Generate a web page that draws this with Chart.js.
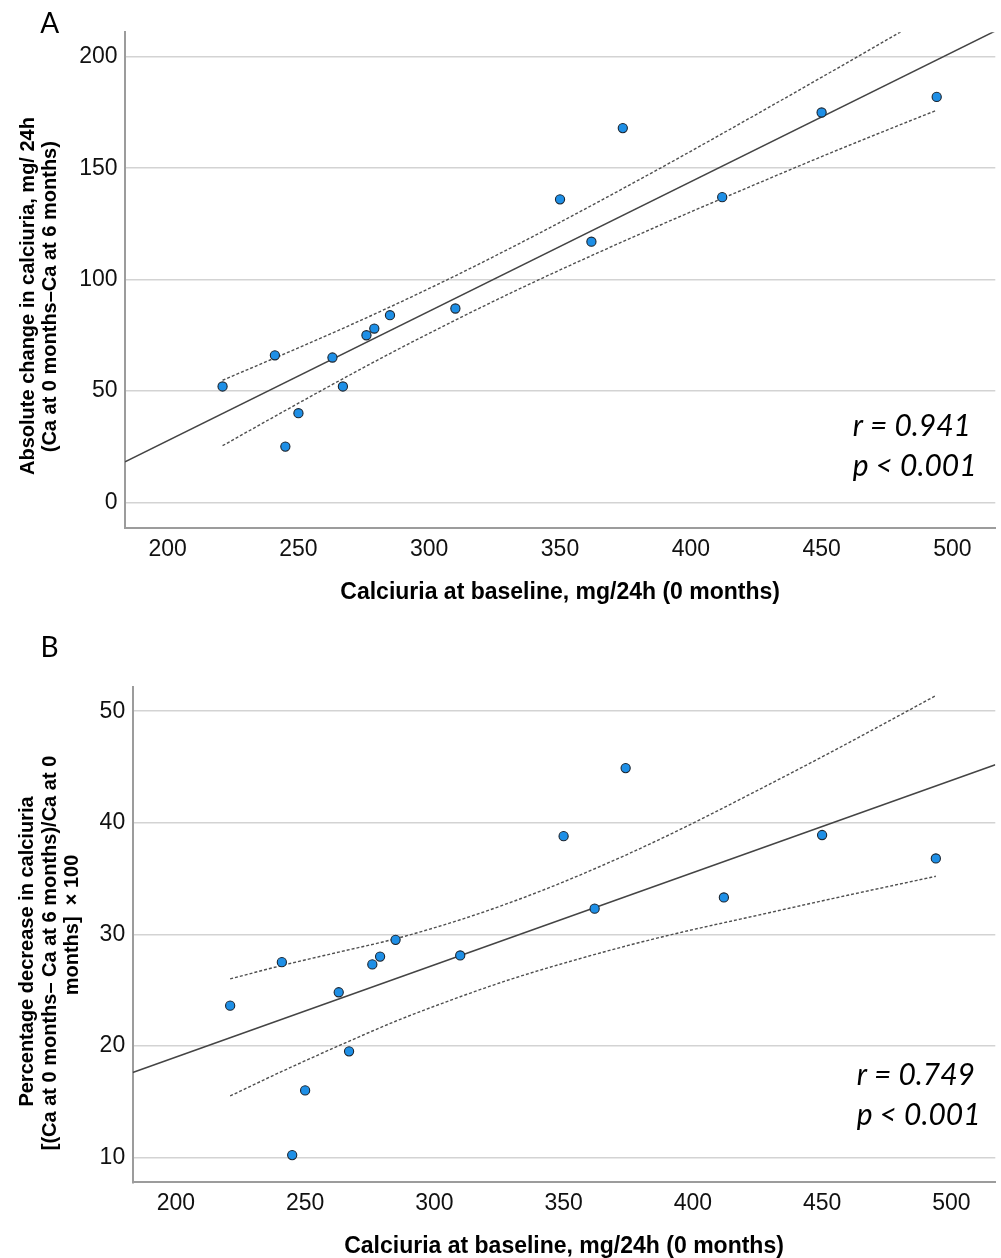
<!DOCTYPE html>
<html lang="en">
<head>
  <meta charset="UTF-8" />
  <title>Calciuria correlations</title>
  <script src="https://cdn.jsdelivr.net/npm/chart.js"></script>
  <style>
    body {
      margin: 0;
      background: #ffffff;
      width: 1001px;
      height: 1258px;
      overflow: hidden;
    }
    canvas {
      display: block;
    }
  </style>
</head>
<body>
  <canvas id="chartA" width="1001" height="625"></canvas>
  <canvas id="chartB" width="1001" height="633"></canvas>

  <script>
    // baseline calciuria (mg/24h) for each patient, same for both panels
    const baselineCa = [221, 241, 245, 250, 263, 267, 276, 279, 285, 310, 350, 362, 374, 412, 450, 494];
    // panel A: absolute change (mg/24h)
    const absChange = [52, 66, 25, 40, 65, 52, 75, 78, 84, 87, 136, 117, 168, 137, 175, 182];
    // panel B: percentage decrease
    const pctDecrease = [23.6, 27.5, 10.2, 16.0, 24.8, 19.5, 27.3, 28.0, 29.5, 28.1, 38.8, 32.3, 44.9, 33.3, 38.9, 36.8];

    // fitted lines and 95% CI bands
    const fitXA = [183.7, 516.4];
    const fitYA = [18.2, 211.6];
    const ciXA = [221, 241, 263, 285, 310, 330, 350, 388, 412, 450, 479, 494];
    const ciUpperA = [54.8, 64.8, 76.0, 87.7, 101.7, 113.5, 125.7, 149.8, 165.5, 190.8, 210.4, 220.6];
    const ciLowerA = [25.4, 38.6, 52.9, 66.8, 81.8, 93.3, 104.3, 124.3, 136.4, 155.2, 169.0, 176.0];

    const fitXB = [183.3, 517];
    const fitYB = [17.6, 45.2];
    const ciXB = [221, 241, 263, 285, 310, 330, 350, 375, 396, 425, 454, 494];
    const ciUpperB = [26.0, 27.2, 28.4, 29.6, 31.3, 32.9, 34.7, 37.2, 39.5, 42.9, 46.4, 51.4];
    const ciLowerB = [15.5, 17.7, 20.0, 22.2, 24.4, 26.0, 27.4, 29.0, 30.2, 31.7, 33.2, 35.2];

    const xTicks = [200, 250, 300, 350, 400, 450, 500];
    const yTicksA = [0, 50, 100, 150, 200];
    const yTicksB = [10, 20, 30, 40, 50];

    const xTitle = 'Calciuria at baseline, mg/24h (0 months)';

    function pts(xs, ys) {
      return xs.map((x, i) => ({ x: x, y: ys[i] }));
    }

    // draws the panel letter, rotated y title and the r / p note
    const notesPlugin = {
      id: 'notes',
      afterDraw(chart) {
        const o = chart.options.plugins.notes;
        const ctx = chart.ctx;
        ctx.save();
        ctx.fillStyle = '#000';
        ctx.textBaseline = 'middle';

        ctx.font = '28px Lato';
        ctx.textAlign = 'center';
        ctx.fillText(o.panel, o.panelPos[0], o.panelPos[1]);

        ctx.font = 'bold 20px "Liberation Sans"';
        o.yTitle.forEach((line, i) => {
          ctx.save();
          ctx.translate(o.yTitlePos[i][0], o.yTitlePos[i][1]);
          ctx.rotate(-Math.PI / 2);
          ctx.fillText(line, 0, 0);
          ctx.restore();
        });

        ctx.font = 'italic 30px Lato';
        ctx.textAlign = 'left';
        o.stats.forEach((line, i) => {
          ctx.fillText(line, o.statsPos[0], o.statsPos[1] + i * 40.7);
        });
        ctx.restore();
      }
    };

    function makeChart(id, cfg) {
      return new Chart(document.getElementById(id), {
        type: 'scatter',
        data: {
          datasets: [
            {
              data: pts(baselineCa, cfg.yValues),
              pointRadius: 4.6,
              pointHoverRadius: 4.6,
              backgroundColor: '#1e8fe6',
              borderColor: '#1b2530',
              borderWidth: 1.1
            },
            {
              data: pts(cfg.fitX, cfg.fitY),
              showLine: true,
              pointRadius: 0,
              borderColor: '#444444',
              borderWidth: 1.5
            },
            {
              data: pts(cfg.ciX, cfg.ciUpper),
              showLine: true,
              pointRadius: 0,
              borderColor: '#4f4f4f',
              borderWidth: 1.4,
              borderDash: [3, 2],
              cubicInterpolationMode: 'monotone'
            },
            {
              data: pts(cfg.ciX, cfg.ciLower),
              showLine: true,
              pointRadius: 0,
              borderColor: '#4f4f4f',
              borderWidth: 1.4,
              borderDash: [3, 2],
              cubicInterpolationMode: 'monotone'
            }
          ]
        },
        options: {
          responsive: false,
          animation: false,
          events: [],
          layout: { padding: cfg.padding },
          plugins: {
            legend: { display: false },
            tooltip: { enabled: false },
            notes: cfg.notes
          },
          scales: {
            x: {
              type: 'linear',
              min: cfg.xMin,
              max: cfg.xMax,
              afterFit: s => { s.height = cfg.xHeight; },
              afterBuildTicks: s => { s.ticks = xTicks.map(v => ({ value: v })); },
              grid: { display: false, drawTicks: false, tickLength: 0 },
              border: { display: true, color: '#9c9c9c', width: 2 },
              ticks: {
                padding: 8,
                color: '#111',
                font: { family: '"Liberation Sans"', size: 23 }
              },
              title: {
                display: true,
                text: xTitle,
                color: '#000',
                font: { family: '"Liberation Sans"', size: 23, weight: 'bold', lineHeight: 1 },
                padding: { top: 0, bottom: cfg.xTitlePad }
              }
            },
            y: {
              type: 'linear',
              min: cfg.yMin,
              max: cfg.yMax,
              afterFit: s => { s.width = cfg.yWidth; },
              afterBuildTicks: s => { s.ticks = cfg.yTicks.map(v => ({ value: v })); },
              grid: { color: '#d3d3d3', lineWidth: 1.5, drawTicks: false, tickLength: 0 },
              border: { display: true, color: '#9c9c9c', width: 2 },
              ticks: {
                padding: 7.5,
                color: '#111',
                font: { family: '"Liberation Sans"', size: 23 }
              }
            }
          }
        },
        plugins: [notesPlugin]
      });
    }

    makeChart('chartA', {
      yValues: absChange,
      fitX: fitXA, fitY: fitYA,
      ciX: ciXA, ciUpper: ciUpperA, ciLower: ciLowerA,
      xMin: 183.7, xMax: 516.4,
      yMin: -11.4, yMax: 211,
      yTicks: yTicksA,
      padding: { top: 32.3, right: 4, left: 0, bottom: 0 },
      yWidth: 125,
      xHeight: 97.3,
      xTitlePad: 21,
      notes: {
        panel: 'A',
        panelPos: [49.7, 23.8],
        yTitle: ['Absolute change in calciuria, mg/ 24h', '(Ca at 0 months\u2013Ca at 6 months)'],
        yTitlePos: [[28.3, 296], [50, 296.7]],
        stats: ['r = 0.941', 'p < 0.001'],
        statsPos: [852.7, 426]
      }
    });

    makeChart('chartB', {
      yValues: pctDecrease,
      fitX: fitXB, fitY: fitYB,
      ciX: ciXB, ciUpper: ciUpperB, ciLower: ciLowerB,
      xMin: 183.3, xMax: 517,
      yMin: 7.76, yMax: 52.2,
      yTicks: yTicksB,
      padding: { top: 61.7, right: 4.3, left: 0, bottom: 0 },
      yWidth: 132.7,
      xHeight: 75.7,
      xTitlePad: 0,
      notes: {
        panel: 'B',
        panelPos: [49.5, 23],
        yTitle: ['Percentage decrease in calciuria', '[(Ca at 0 months\u2013 Ca at 6 months)/Ca at 0', 'months]  \u00d7 100'],
        yTitlePos: [[27.3, 326.5], [50, 328], [72.7, 300]],
        stats: ['r = 0.749', 'p < 0.001'],
        statsPos: [856.7, 450]
      }
    });
  </script>
</body>
</html>
